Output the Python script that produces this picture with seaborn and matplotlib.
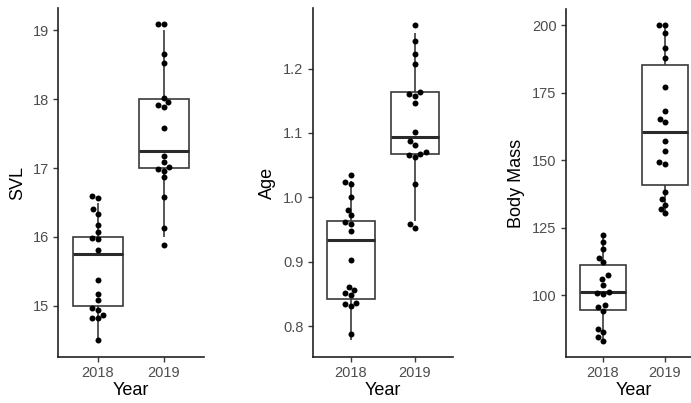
import matplotlib
matplotlib.use("Agg")
import matplotlib.pyplot as plt
import seaborn as sns
import pandas as pd
from matplotlib.ticker import FixedLocator, FormatStrFormatter

# ---------------- data ----------------
years = ["2018", "2019"]

# measured values (used for the boxes)
svl_2018 = [14.5, 15, 15, 15, 15, 15, 15, 15, 15.5, 16, 16, 16, 16, 16, 16.5, 16.5, 16.5, 16.5]
svl_2019 = [16, 16, 16.5, 17, 17, 17, 17, 17, 17, 17.5, 18, 18, 18, 18, 18.5, 18.5, 19, 19]
age_2018 = [0.778, 0.842, 0.842, 0.842, 0.842, 0.842, 0.842, 0.842, 0.903,
            0.963, 0.963, 0.963, 0.963, 0.963, 1.025, 1.025, 1.025, 1.025]
age_2019 = [0.963, 0.963, 1.020, 1.068, 1.068, 1.068, 1.068, 1.068, 1.068, 1.120,
            1.164, 1.164, 1.164, 1.164, 1.212, 1.212, 1.255, 1.255]
mass_2018 = [83.3, 84.6, 86.4, 87.7, 94.2, 95.7, 96.3, 100.4, 101.0, 101.4,
             104.0, 106.2, 107.4, 112.3, 114.0, 117.3, 119.8, 122.2]
mass_2019 = [130.5, 132.1, 133.6, 135.6, 138.3, 148.5, 149.4, 153.3, 157.0, 164.0,
             165.2, 168.1, 177.2, 188.0, 191.7, 197.3, 200.2, 200.2]

# jittered values as drawn for the points
svl_2018_pts = [14.51, 14.82, 14.82, 14.87, 14.94, 14.97, 15.08, 15.18, 15.38, 15.81,
                15.97, 15.99, 16.07, 16.17, 16.34, 16.40, 16.57, 16.59]
svl_2019_pts = [15.89, 16.13, 16.58, 16.87, 16.96, 16.99, 17.02, 17.08, 17.17, 17.58,
                17.88, 17.92, 17.95, 18.02, 18.52, 18.66, 19.09, 19.09]
age_2018_pts = [0.788, 0.831, 0.834, 0.836, 0.848, 0.851, 0.856, 0.860, 0.903, 0.947,
                0.958, 0.962, 0.972, 0.980, 1.000, 1.021, 1.024, 1.035]
age_2019_pts = [0.952, 0.958, 1.020, 1.063, 1.066, 1.068, 1.071, 1.081, 1.087, 1.102,
                1.147, 1.158, 1.161, 1.164, 1.207, 1.223, 1.243, 1.267]
mass_2018_pts = mass_2018
mass_2019_pts = mass_2019

svl_ticks = [15, 16, 17, 18, 19]
age_ticks = [0.8, 0.9, 1.0, 1.1, 1.2]
mass_ticks = [100, 125, 150, 175, 200]

# ---------------- style ----------------
sns.set_style("ticks")
plt.rcParams['font.family'] = ['Liberation Sans', 'DejaVu Sans']

W, H = 691, 403
fig = plt.figure(figsize=(W / 100, H / 100), dpi=100)


def add_ax(left, right, top, bottom):
    return fig.add_axes([left / W, 1 - bottom / H, (right - left) / W, (bottom - top) / H])


def long_df(a, b):
    return pd.DataFrame({"Year": [years[0]] * len(a) + [years[1]] * len(b),
                         "value": list(a) + list(b)})


panels = [
    dict(label="SVL", box=(svl_2018, svl_2019), pts=(svl_2018_pts, svl_2019_pts),
         ylim=(14.26, 19.32), ticks=svl_ticks, fmt="%g", rect=(58.4, 203.6, 8, 357)),
    dict(label="Age", box=(age_2018, age_2019), pts=(age_2018_pts, age_2019_pts),
         ylim=(0.752, 1.294), ticks=age_ticks, fmt="%.1f", rect=(312.6, 453.4, 8, 357)),
    dict(label="Body Mass", box=(mass_2018, mass_2019), pts=(mass_2018_pts, mass_2019_pts),
         ylim=(77.2, 206.0), ticks=mass_ticks, fmt="%g", rect=(565.8, 702.0, 9, 357)),
]

line_col = "#3a3a3a"
for p in panels:
    ax = add_ax(*p["rect"])
    ax.set_ylim(*p["ylim"])
    ax.set_xlim(-0.6, 1.6)
    sns.boxplot(data=long_df(*p["box"]), x="Year", y="value", order=years, ax=ax,
                color="white", linecolor=line_col, linewidth=1.2, width=0.75,
                showfliers=False, showcaps=False,
                medianprops=dict(linewidth=2.2, color="#2a2a2a"))
    ax.set_ylim(*p["ylim"])
    ax.set_xlim(-0.6, 1.6)
    sns.swarmplot(data=long_df(*p["pts"]), x="Year", y="value", order=years, ax=ax,
                  color="black", size=4.3, zorder=3, warn_thresh=1.0)
    ax.set_ylim(*p["ylim"])
    ax.set_xlim(-0.6, 1.6)
    ax.yaxis.set_major_locator(FixedLocator(p["ticks"]))
    ax.yaxis.set_major_formatter(FormatStrFormatter(p["fmt"]))
    sns.despine(ax=ax)
    for s in ("left", "bottom"):
        ax.spines[s].set_color("#222222")
        ax.spines[s].set_linewidth(1.2)
    ax.tick_params(axis="both", length=3.3, width=1.0, color=line_col,
                   labelcolor="#4D4D4D", labelsize=10.5, pad=3.3)
    ax.set_xlabel("Year", fontsize=13, color="black", labelpad=1)
    ax.set_ylabel(p["label"], fontsize=13, color="black", labelpad=5)

fig.savefig("out.png", dpi=100)
